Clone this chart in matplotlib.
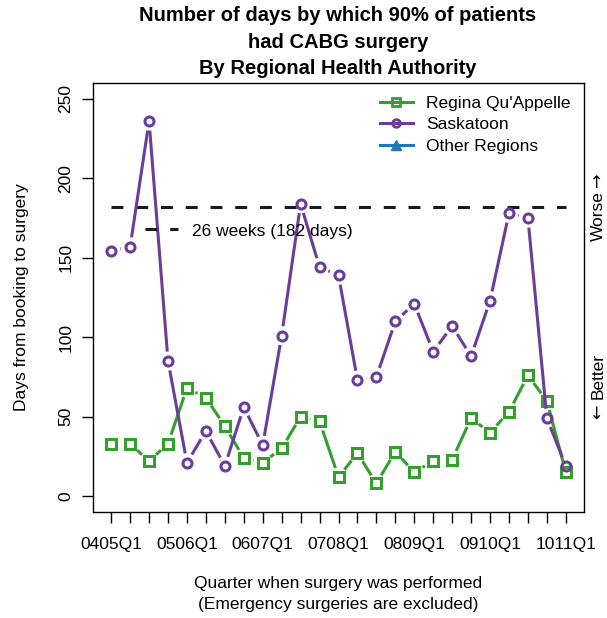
import numpy as np
import matplotlib.pyplot as plt
from matplotlib.lines import Line2D

plt.rcParams['font.family'] = ['Liberation Sans', 'DejaVu Sans']

# quarterly data, 2004/05 Q1 to 2010/11 Q1
quarters = ['0405Q1', '0405Q2', '0405Q3', '0405Q4',
            '0506Q1', '0506Q2', '0506Q3', '0506Q4',
            '0607Q1', '0607Q2', '0607Q3', '0607Q4',
            '0708Q1', '0708Q2', '0708Q3', '0708Q4',
            '0809Q1', '0809Q2', '0809Q3', '0809Q4',
            '0910Q1', '0910Q2', '0910Q3', '0910Q4',
            '1011Q1']
regina = [33, 33, 22, 33, 68, 62, 44, 24, 21, 30, 50, 47, 12,
          27, 8, 28, 15, 22, 23, 49, 40, 53, 76, 60, 15]
saskatoon = [154, 157, 236, 85, 21, 41, 19, 56, 32, 101, 184, 144, 139,
             73, 75, 110, 121, 91, 107, 88, 123, 178, 175, 49, 19]
shown_labels = ['0405Q1', '0506Q1', '0607Q1', '0708Q1', '0809Q1', '0910Q1', '1011Q1']
target_days = 182

GREEN = '#33a02c'
PURPLE = '#6a3d9a'
BLUE = '#1f78b4'
FS = 12.5
DASH = (3.9, 4.2)

fig = plt.figure(figsize=(6.07, 6.18), dpi=100)
ax = fig.add_axes([93/607, 1-512/618, (584-93)/607, (512-83)/618])

xs = np.arange(len(quarters))
ax.set_xlim(-0.96, len(quarters) - 1 + 0.96)
ax.set_ylim(-10, 260)


#R style type="b": segments with a gap round each point
def gapped_line(x, y, color, marker, gap=9.5, lw=2.2):
    pts = ax.transData.transform(np.column_stack([x, y]))
    inv = ax.transData.inverted()
    for p, q in zip(pts[:-1], pts[1:]):
        d = q - p
        L = np.hypot(*d)
        if L <= 2 * gap:
            continue
        u = d / L
        seg = inv.transform(np.array([p + u * gap, q - u * gap]))
        ax.plot(seg[:, 0], seg[:, 1], color=color, lw=lw, solid_capstyle='butt')
    ax.plot(x, y, ls='none', marker=marker, ms=6.5, mfc='none', mec=color, mew=2.2)


ax.plot([0, len(quarters) - 1], [target_days, target_days], color='#1a1a1a',
        lw=2.2, dashes=DASH)
gapped_line(xs, regina, GREEN, 's')
gapped_line(xs, saskatoon, PURPLE, 'o')

#box-less legends
handles = [Line2D([], [], color=GREEN, lw=2.2, marker='s', ms=5.5, mfc='none', mec=GREEN, mew=2),
           Line2D([], [], color=PURPLE, lw=2.2, marker='o', ms=5.5, mfc='none', mec=PURPLE, mew=2),
           Line2D([], [], color=BLUE, lw=2.2, marker='^', ms=7, mfc=BLUE, mec=BLUE)]
leg = ax.legend(handles, ["Regina Qu'Appelle", 'Saskatoon', 'Other Regions'],
                loc='upper right', bbox_to_anchor=(1.0, 1.0), frameon=False,
                fontsize=FS, handlelength=1.9, handletextpad=0.8, labelspacing=0.35,
                borderaxespad=0.35, borderpad=0.4)
ax.add_artist(leg)
ax.legend([Line2D([], [], color='#1a1a1a', lw=2.2, dashes=DASH)],
          ['26 weeks (182 days)'], loc='center left',
          bbox_to_anchor=((138 - 93) / 491, (512 - 231) / 429),
          frameon=False, fontsize=FS, handlelength=1.9, handletextpad=0.8,
          borderaxespad=0, borderpad=0.4)

ax.set_xticks(xs)
ax.set_xticklabels([q if q in shown_labels else '' for q in quarters], fontsize=FS)
ax.set_yticks(range(0, 251, 50))
ax.set_yticklabels([str(v) for v in range(0, 251, 50)], fontsize=FS,
                   rotation=90, va='center')
ax.tick_params(length=8, width=1)
ax.tick_params(axis='x', pad=10)
ax.tick_params(axis='y', pad=6)
for s in ax.spines.values():
    s.set_linewidth(1)

fig.text(22/607, 1-297/618, 'Days from booking to surgery', rotation=90,
         ha='center', va='center', fontsize=FS)
fig.text(338/607, 1-594/618,
         "Quarter when surgery was performed\n(Emergency surgeries are excluded)",
         ha='center', va='center', fontsize=FS, linespacing=1.45)
fig.text(338/607, 1-42/618,
         'Number of days by which 90% of patients\nhad CABG surgery\nBy Regional Health Authority',
         ha='center', va='center', fontsize=14.5, fontweight='bold', linespacing=1.5)

#direction hints on the right, arrows drawn in DejaVu so they are full size
fig.text(598/607, 1-216/618, 'Worse', rotation=90, ha='center', va='center', fontsize=FS)
fig.text(598/607, 1-180/618, '\u2192', rotation=90, ha='center', va='center',
         fontsize=FS, family='DejaVu Sans')
fig.text(598/607, 1-376/618, 'Better', rotation=90, ha='center', va='center', fontsize=FS)
fig.text(598/607, 1-412/618, '\u2190', rotation=90, ha='center', va='center',
         fontsize=FS, family='DejaVu Sans')

fig.savefig('out.png', dpi=100)
